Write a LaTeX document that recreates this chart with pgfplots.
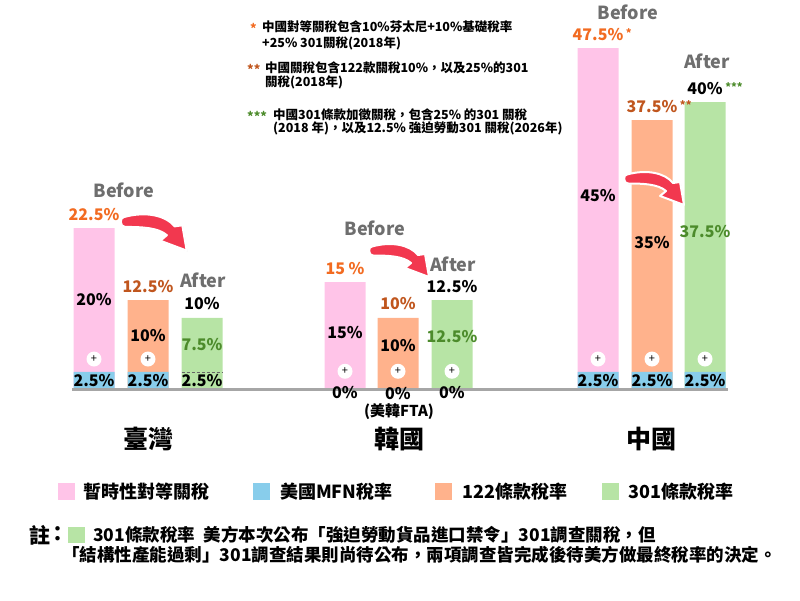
\documentclass[border=0pt]{standalone}
\usepackage{fontspec}
\setmainfont{Noto Sans CJK TC}
\usepackage{pgfplots}
\pgfplotsset{compat=1.18}
\usetikzlibrary{shadows}

\definecolor{cpink}{HTML}{FFC4E8}
\definecolor{cblue}{HTML}{88CDEB}
\definecolor{corange}{HTML}{FFB28C}
\definecolor{cgreen}{HTML}{B7E4A5}
\definecolor{torange}{HTML}{F26B21}
\definecolor{tbrown}{HTML}{C0561E}
\definecolor{tgreen}{HTML}{4C8B2B}
\definecolor{tgray}{HTML}{6E6E6E}
\definecolor{arrowred}{HTML}{F2384F}

\tikzset{
  lab/.style={font=\fontsize{16}{18}\selectfont\bfseries, inner sep=0pt},
  top/.style={lab, anchor=base, yshift=8pt},
  ba/.style={font=\fontsize{18}{20}\selectfont\bfseries, text=tgray, inner sep=0pt},
  plus/.style={circle, fill=white, minimum size=15pt, inner sep=0pt, font=\fontsize{11}{11}\selectfont},
  note/.style={font=\fontsize{12.5}{14}\selectfont\bfseries, anchor=west, inner sep=0pt},
  leg/.style={font=\fontsize{18}{20}\selectfont\bfseries, anchor=west, inner sep=0pt},
  cat/.style={font=\fontsize{25}{27}\selectfont\bfseries, inner sep=0pt},
}

% curved red arrow, tail at #1,#2
\newcommand{\bendarrow}[3]{%
  \filldraw[arrowred, draw=white, line width=2pt, line join=round,
    drop shadow={shadow xshift=0.8pt, shadow yshift=-0.8pt, opacity=0.25},
    shift={(#1,#2)}, scale=#3]
  (0,4.5) .. controls (20,10) and (38,6) .. (46,-4) -- (53,-3) -- (57,-26)
  -- (33,-17) -- (39,-12) .. controls (31,-5) and (16,-4.5) .. (1,-4.5)
  .. controls (-4,-4.5) and (-4,4.5) .. (0,4.5) -- cycle;}

\newcommand{\st}[2]{\rlap{\,\textcolor{#1}{\raisebox{3pt}{\fontsize{11}{11}\selectfont #2}}}}

\begin{document}
\begin{tikzpicture}[x=1pt,y=1pt]
\path[use as bounding box] (0pt,0pt) rectangle (800pt,600pt);

\begin{axis}[
  at={(0pt,210pt)}, anchor=south west,
  scale only axis, width=800pt, height=360pt,
  xmin=0, xmax=800, ymin=0, ymax=50,
  hide axis, clip=false]

% 暫時性對等關稅
\addplot[ybar, bar width=41pt, bar shift=0pt, fill=cpink, draw=none]
  coordinates {(94,22.5) (345,15) (598,47.5)};
% 122條款稅率
\addplot[ybar, bar width=41pt, bar shift=0pt, fill=corange, draw=none]
  coordinates {(148,12.5) (398,10) (652,37.5)};
% 301條款稅率
\addplot[ybar, bar width=41pt, bar shift=0pt, fill=cgreen, draw=none]
  coordinates {(202,10) (452,12.5) (705,40)};
% 美國MFN稅率
\addplot[ybar, bar width=41pt, bar shift=0pt, fill=cblue, draw=none]
  coordinates {(94,2.5) (148,2.5) (345,0) (398,0) (452,0) (598,2.5) (652,2.5) (705,2.5)};

\draw[densely dashed, black!60, line width=0.6pt] (axis cs:181.5,2.5) -- (axis cs:222.5,2.5);
\draw[black!35, line width=3pt] (axis cs:72,0) -- (axis cs:728,0);

% Taiwan
\node[top, text=torange] at (axis cs:94,22.5) {22.5\%};
\node[top, text=tbrown] at (axis cs:148,12.5) {12.5\%};
\node[top] at (axis cs:202,10) {10\%};
\node[lab] at (axis cs:94,12.5) {20\%};
\node[lab] at (axis cs:148,7.5) {10\%};
\node[lab, text=tgreen] at (axis cs:202,6.25) {7.5\%};
\node[lab] at (axis cs:94,1.3) {2.5\%};
\node[lab] at (axis cs:148,1.3) {2.5\%};
\node[lab] at (axis cs:202,1.3) {2.5\%};
\node[plus] at (axis cs:94,4.3) {+};
\node[plus] at (axis cs:148,4.3) {+};
\node[ba] at (axis cs:124,27.8) {Before};
\node[ba] at (axis cs:203,15.3) {After};

% Korea
\node[top, text=torange] at (axis cs:345,15) {15 \%};
\node[top, text=tbrown] at (axis cs:398,10) {10\%};
\node[top] at (axis cs:452,12.5) {12.5\%};
\node[lab] at (axis cs:345,8) {15\%};
\node[lab] at (axis cs:398,6.2) {10\%};
\node[lab, text=tgreen] at (axis cs:452,7.4) {12.5\%};
\node[plus] at (axis cs:345,2.6) {+};
\node[plus] at (axis cs:398,2.6) {+};
\node[plus] at (axis cs:452,2.6) {+};
\node[lab] at (axis cs:345,-0.3) {0\%};
\node[lab] at (axis cs:398,-0.5) {0\%};
\node[lab] at (axis cs:452,-0.3) {0\%};
\node[ba] at (axis cs:375,22.5) {Before};
\node[ba] at (axis cs:453,17.4) {After};

% China
\node[top, text=torange] at (axis cs:598,47.5) {47.5\%\st{torange}{*}};
\node[top, text=tbrown] at (axis cs:652,37.5) {37.5\%\st{tbrown}{**}};
\node[top] at (axis cs:705,40) {40\%\st{tgreen}{***}};
\node[lab] at (axis cs:598,27) {45\%};
\node[lab] at (axis cs:652,20.5) {35\%};
\node[lab, text=tgreen] at (axis cs:705,22) {37.5\%};
\node[lab] at (axis cs:598,1.3) {2.5\%};
\node[lab] at (axis cs:652,1.3) {2.5\%};
\node[lab] at (axis cs:705,1.3) {2.5\%};
\node[plus] at (axis cs:598,4.3) {+};
\node[plus] at (axis cs:652,4.3) {+};
\node[plus] at (axis cs:705,4.3) {+};
\node[ba] at (axis cs:628,52.4) {Before};
\node[ba] at (axis cs:707,45.6) {After};
\end{axis}

\bendarrow{124}{378}{1.1}
\bendarrow{372}{349}{1}
\bendarrow{627}{421}{1}

% categories
\node[font=\fontsize{15}{16}\selectfont\bfseries, inner sep=0pt] at (399,188) {(美韓FTA)};
\node[cat] at (148,161) {臺灣};
\node[cat] at (399,161) {韓國};
\node[cat] at (651,161) {中國};

% notes
\node[note, text=torange] at (250,572) {*};
\node[note] at (262,573) {中國對等關稅包含10\%芬太尼+10\%基礎稅率};
\node[note] at (262,557) {+25\% 301關稅(2018年)};
\node[note, text=tbrown] at (247,531) {**};
\node[note] at (265,532) {中國關稅包含122款關稅10\%，以及25\%的301};
\node[note] at (265,518) {關稅(2018年)};
\node[note, text=tgreen] at (247,484) {***};
\node[note] at (273,485) {中國301條款加徵關稅，包含25\% 的301 關稅};
\node[note] at (273,472) {(2018 年)，以及12.5\% 強迫勞動301 關稅(2026年)};

% legend
\fill[cpink] (58,100) rectangle (75,117);
\node[leg] at (83,108) {暫時性對等關稅};
\fill[cblue] (253,100) rectangle (270,117);
\node[leg] at (280,108) {美國MFN稅率};
\fill[corange] (435,100) rectangle (452,117);
\node[leg] at (462,108) {122條款稅率};
\fill[cgreen] (602,100) rectangle (619,117);
\node[leg] at (628,108) {301條款稅率};

% footnote
\node[font=\fontsize{21}{22}\selectfont\bfseries, anchor=west, inner sep=0pt] at (29,65) {註};
\node[font=\fontsize{21}{22}\selectfont\bfseries, inner sep=0pt] at (58,66) {：};
\fill[cgreen] (68,57) rectangle (85,73);
\node[font=\fontsize{17.5}{19}\selectfont\bfseries, anchor=west, inner sep=0pt] at (93,65)
  {301條款稅率\hspace{0.5em}美方本次公布「強迫勞動貨品進口禁令」301調查關稅，但};
\node[font=\fontsize{17.5}{19}\selectfont\bfseries, anchor=west, inner sep=0pt] at (62,45)
  {「結構性產能過剩」301調查結果則尚待公布，兩項調查皆完成後待美方做最終稅率的決定。};
\end{tikzpicture}
\end{document}
